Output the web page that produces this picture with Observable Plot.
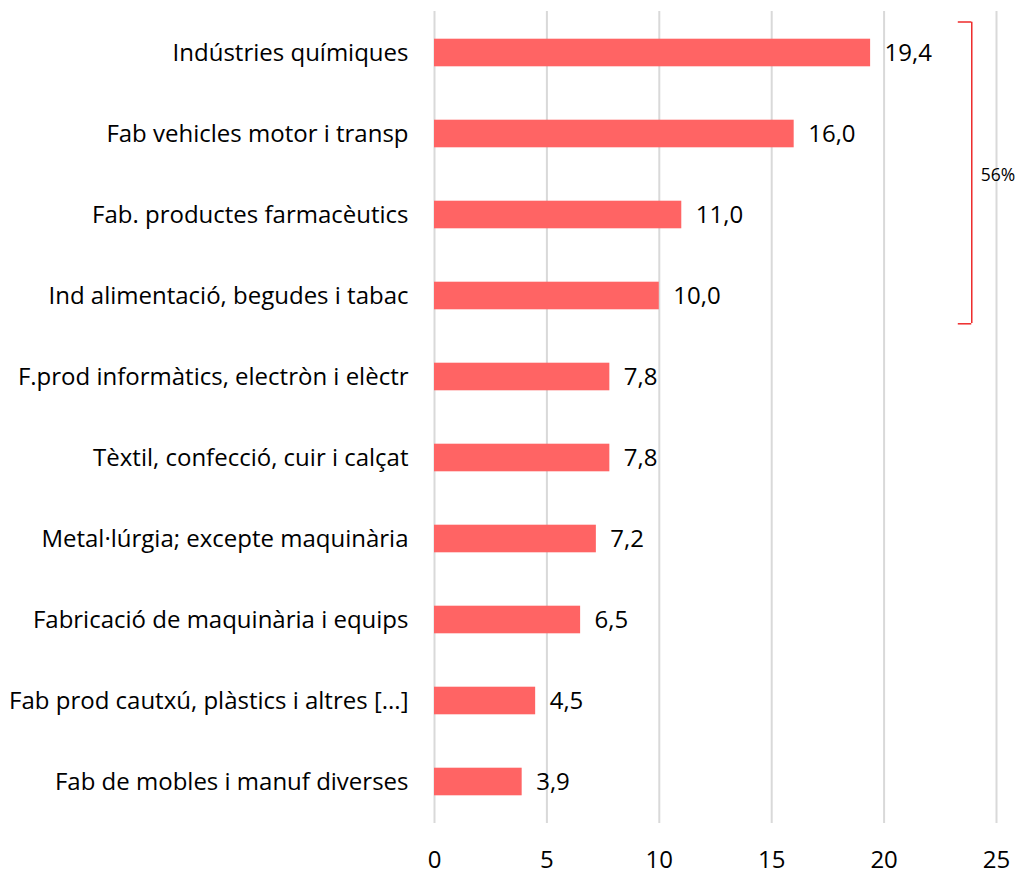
<!DOCTYPE html>
<html>
<head>
<meta charset="utf-8">
<script src="https://cdn.jsdelivr.net/npm/d3@7"></script>
<script src="https://cdn.jsdelivr.net/npm/@observablehq/plot@0.6"></script>
<style>
  html, body { margin: 0; padding: 0; background: #fff; }
  #chart svg { display: block; }
</style>
</head>
<body>
<div id="chart"></div>
<script>
const categories = [
  "Indústries químiques",
  "Fab vehicles motor i transp",
  "Fab. productes farmacèutics",
  "Ind alimentació, begudes i tabac",
  "F.prod informàtics, electròn i elèctr",
  "Tèxtil, confecció, cuir i calçat",
  "Metal·lúrgia; excepte maquinària",
  "Fabricació de maquinària i equips",
  "Fab prod cautxú, plàstics i altres [...]",
  "Fab de mobles i manuf diverses"
];
const values = [19.4, 16.0, 11.0, 10.0, 7.8, 7.8, 7.2, 6.5, 4.5, 3.9];
const xTicks = [0, 5, 10, 15, 20, 25];
const bracketLabel = "56%";
const bracketFrom = categories[0];
const bracketTo = categories[3];
const bracketMid = categories[1];

const data = categories.map((c, i) => ({cat: c, value: values[i]}));
const fmt = v => v.toFixed(1).replace(".", ",");

const barColor = "#ff6464";
const bracketColor = "#ee2a2a";

const chart = Plot.plot({
  width: 1020,
  height: 871,
  marginLeft: 434,
  marginRight: 24,
  marginTop: 10,
  marginBottom: 47,
  style: {fontFamily: "'Open Sans', sans-serif", fontSize: "24px", color: "#000", background: "#fff"},
  x: {domain: [0, 25], ticks: xTicks, tickSize: 0, tickPadding: 26, tickFormat: d => String(d), label: null},
  y: {domain: categories, padding: 0, tickSize: 0, tickPadding: 26, label: null},
  marks: [
    Plot.ruleX(xTicks, {stroke: "#d9d9d9", strokeWidth: 2, insetTop: 1, insetBottom: 1}),
    Plot.barX(data, {x: "value", y: "cat", fill: barColor, insetTop: 26.7, insetBottom: 26.7}),
    Plot.text(data, {x: "value", y: "cat", text: d => fmt(d.value), textAnchor: "start", dx: 14, fill: "#000", fontSize: 24}),
    Plot.ruleX([23.9], {y1: () => bracketFrom, y2: () => bracketTo, stroke: bracketColor, strokeWidth: 1.5, insetTop: 9.7, insetBottom: 13}),
    Plot.ruleY([bracketFrom], {y: d => d, x1: 23.3, x2: 23.9, dy: -31, stroke: bracketColor, strokeWidth: 1.5}),
    Plot.ruleY([bracketTo], {y: d => d, x1: 23.3, x2: 23.9, dy: 27.8, stroke: bracketColor, strokeWidth: 1.5}),
    Plot.text([bracketLabel], {x: 24.3, y: () => bracketMid, text: d => d, textAnchor: "start", dy: 41, fontSize: 17.5, fill: "#000"})
  ]
});
document.getElementById("chart").appendChild(chart);
</script>
</body>
</html>
